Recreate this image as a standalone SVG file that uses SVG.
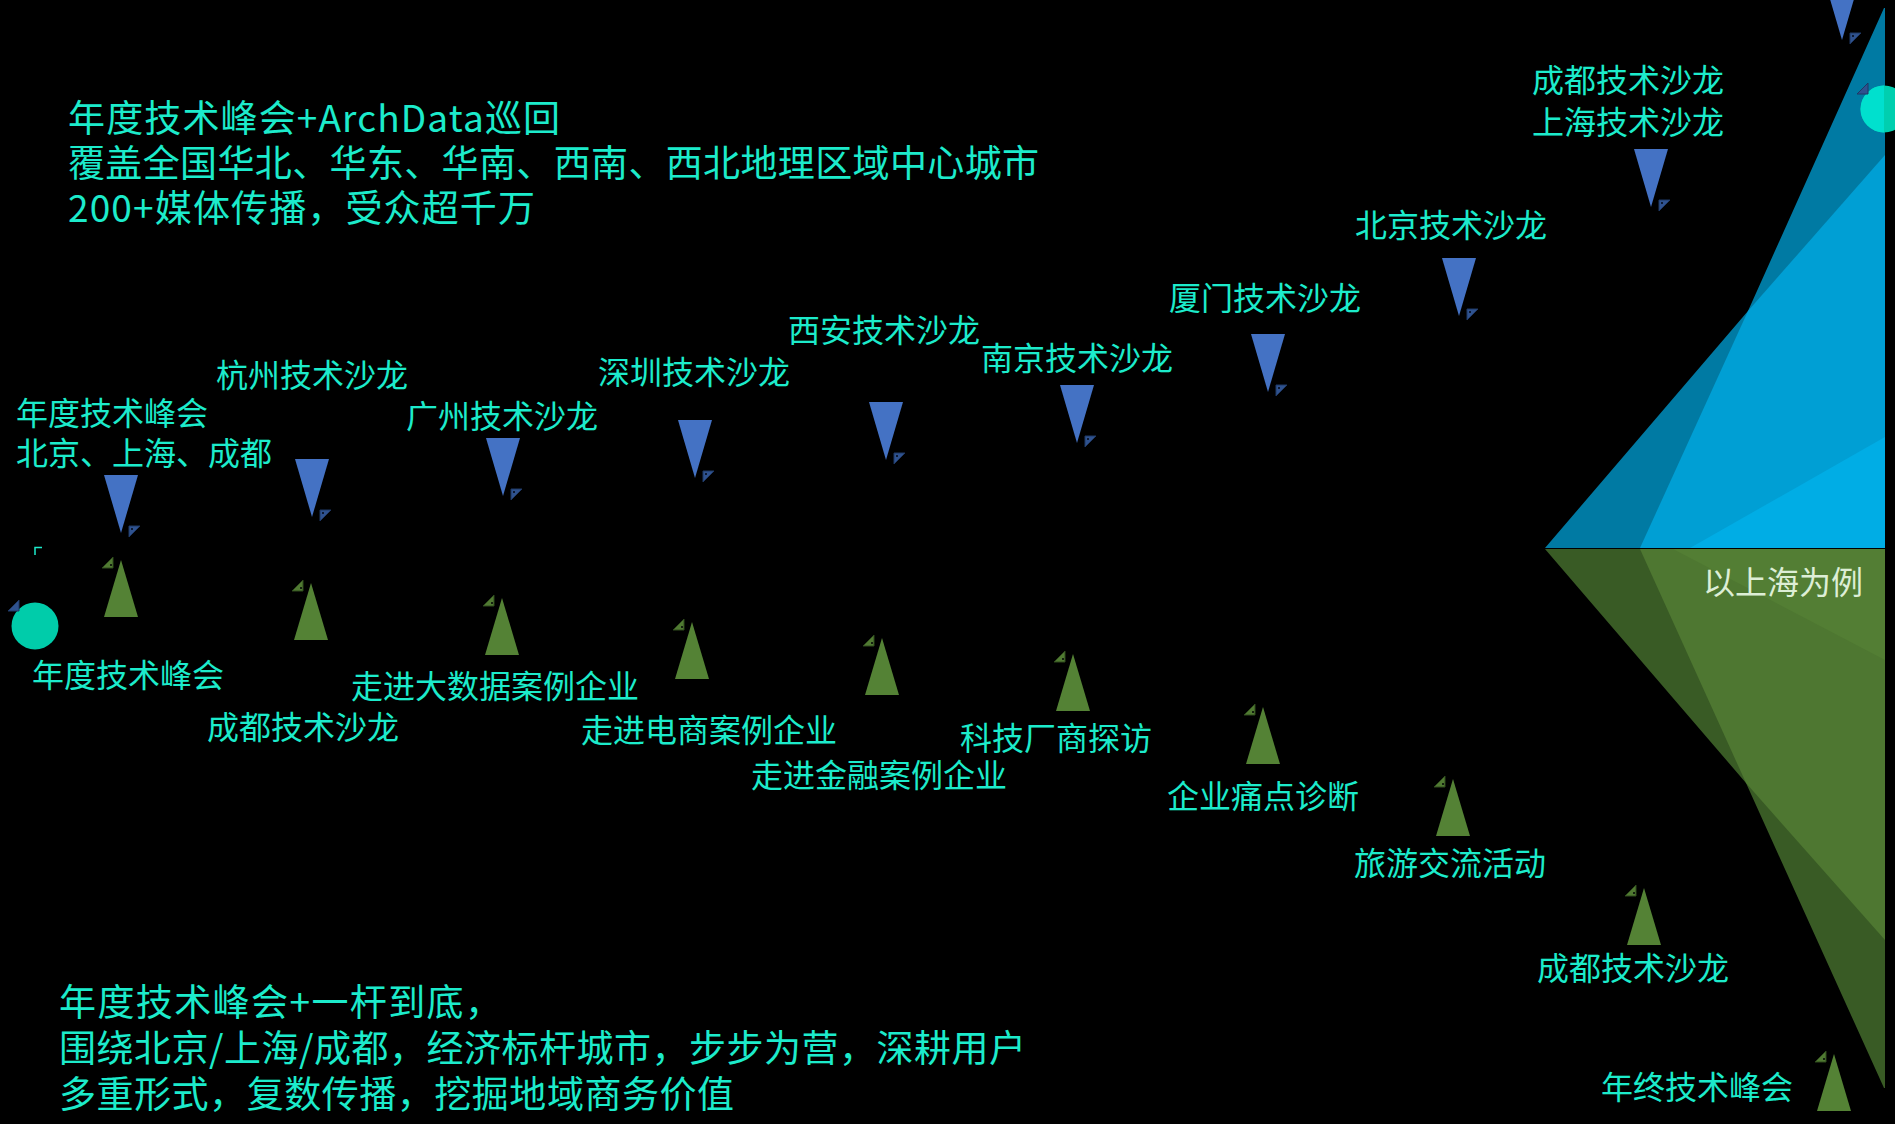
<svg xmlns="http://www.w3.org/2000/svg" xmlns:xlink="http://www.w3.org/1999/xlink" width="1895" height="1124" viewBox="0 0 1895 1124">
<style>
  .t{font-family:"Noto Sans CJK SC","Microsoft YaHei","Noto Sans",sans-serif;fill:#1CEBCB}
  .lbl{font-size:32px}
  .big{font-size:37px}
  .mid{text-anchor:middle}
</style>
<defs>
  <path id="tb" d="M-17,-58 L17,-58 L0,0 Z" fill="#4472C4"/>
  <g id="mb"><path d="M8,-7 L19,-7 L8,4 Z" fill="#2F528F" stroke="#1F3864" stroke-width="1"/><rect x="10" y="-5" width="2" height="2" fill="#0d1a33"/></g>
  <path id="tg" d="M0,0 L17,57 L-17,57 Z" fill="#548235"/>
  <g id="mg"><path d="M-8,-3 L-8,8 L-19,8 Z" fill="#507A32" stroke="#2E4A1C" stroke-width="1"/><rect x="-11" y="4" width="2" height="2" fill="#142010"/></g>
</defs>
<rect x="0" y="0" width="1895" height="1124" fill="#000"/>

<!-- diamond -->
<g id="diamond">
  <polygon points="1545,548 1748,311 1884,8 1885,8 1885,548" fill="#007AA3"/>
  <polygon points="1640,548 1748,311 1885,155 1885,548" fill="#009FD4"/>
  <polygon points="1690,548 1885,437 1885,548" fill="#00ADE5"/>
  <polygon points="1545,549 1746,783 1884,1088 1885,1088 1885,549" fill="#395B25"/>
  <polygon points="1640,549 1746,783 1885,940 1885,549" fill="#4E7731"/>
  <polygon points="1673,549 1885,660 1885,549" fill="#537E34"/>
  <text class="t lbl" x="1863" y="594" text-anchor="end" style="fill:#DDEED6">以上海为例</text>
</g>

<g id="connectors">
  <path d="M35,555 V547.5 H42" fill="none" stroke="#1CEBCB" stroke-width="1.5"/>
</g>

<!-- headline texts -->
<g id="intro-top">
  <text class="t big" x="68" y="132" textLength="492" lengthAdjust="spacing">年度技术峰会+ArchData巡回</text>
  <text class="t big" x="68" y="177" textLength="971" lengthAdjust="spacing">覆盖全国华北、华东、华南、西南、西北地理区域中心城市</text>
  <text class="t big" x="68" y="222" textLength="467" lengthAdjust="spacing">200+媒体传播，受众超千万</text>
</g>
<g id="intro-bottom">
  <text class="t big" x="59" y="1016" textLength="443" lengthAdjust="spacing">年度技术峰会+一杆到底，</text>
  <text class="t big" x="59" y="1062" textLength="967" lengthAdjust="spacing">围绕北京/上海/成都，经济标杆城市，步步为营，深耕用户</text>
  <text class="t big" x="59" y="1108" textLength="675" lengthAdjust="spacing">多重形式，复数传播，挖掘地域商务价值</text>
</g>

<!-- circles -->
<g id="start-circle">
  <circle cx="35" cy="626" r="23.5" fill="#00CCAA"/>
  <path d="M19,600 L8,611 L19,611 Z" fill="#2F528F" stroke="#1F3864" stroke-width="1"/>
</g>
<g id="end-circle">
  <circle cx="1884" cy="109" r="23.5" fill="#00CFAF"/>
  <path d="M1884,85.5 A23.5,23.5 0 0 0 1884,132.5 Z" fill="#00E0CE"/>
  <path d="M1868,83 L1857,94 L1868,94 Z" fill="#2F528F" stroke="#1F3864" stroke-width="1"/>
</g>

<!-- blue (national) nodes -->
<g id="b1"><use href="#tb" x="121" y="533"/><use href="#mb" x="121" y="533"/>
  <text class="t lbl" x="16" y="425">年度技术峰会</text><text class="t lbl" x="16" y="465">北京、上海、成都</text></g>
<g id="b2"><use href="#tb" x="312" y="517"/><use href="#mb" x="312" y="517"/>
  <text class="t lbl mid" x="312" y="387">杭州技术沙龙</text></g>
<g id="b3"><use href="#tb" x="503" y="496"/><use href="#mb" x="503" y="496"/>
  <text class="t lbl mid" x="502" y="428">广州技术沙龙</text></g>
<g id="b4"><use href="#tb" x="695" y="478"/><use href="#mb" x="695" y="478"/>
  <text class="t lbl mid" x="694" y="384">深圳技术沙龙</text></g>
<g id="b5"><use href="#tb" x="886" y="460"/><use href="#mb" x="886" y="460"/>
  <text class="t lbl mid" x="884" y="342">西安技术沙龙</text></g>
<g id="b6"><use href="#tb" x="1077" y="443"/><use href="#mb" x="1077" y="443"/>
  <text class="t lbl mid" x="1077" y="370">南京技术沙龙</text></g>
<g id="b7"><use href="#tb" x="1268" y="392"/><use href="#mb" x="1268" y="392"/>
  <text class="t lbl mid" x="1265" y="310">厦门技术沙龙</text></g>
<g id="b8"><use href="#tb" x="1459" y="316"/><use href="#mb" x="1459" y="316"/>
  <text class="t lbl mid" x="1451" y="237">北京技术沙龙</text></g>
<g id="b9"><use href="#tb" x="1651" y="207"/><use href="#mb" x="1651" y="207"/>
  <text class="t lbl mid" x="1628" y="92">成都技术沙龙</text><text class="t lbl mid" x="1628" y="134">上海技术沙龙</text></g>
<g id="b10"><use href="#tb" x="1842" y="40"/><use href="#mb" x="1842" y="40"/></g>

<!-- green (Shanghai) nodes -->
<g id="g1"><use href="#tg" x="121" y="560"/><use href="#mg" x="121" y="560"/>
  <text class="t lbl" x="32" y="687">年度技术峰会</text></g>
<g id="g2"><use href="#tg" x="311" y="583"/><use href="#mg" x="311" y="583"/>
  <text class="t lbl mid" x="303" y="739">成都技术沙龙</text></g>
<g id="g3"><use href="#tg" x="502" y="598"/><use href="#mg" x="502" y="598"/>
  <text class="t lbl mid" x="495" y="698">走进大数据案例企业</text></g>
<g id="g4"><use href="#tg" x="692" y="622"/><use href="#mg" x="692" y="622"/>
  <text class="t lbl mid" x="709" y="742">走进电商案例企业</text></g>
<g id="g5"><use href="#tg" x="882" y="638"/><use href="#mg" x="882" y="638"/>
  <text class="t lbl mid" x="879" y="787">走进金融案例企业</text></g>
<g id="g6"><use href="#tg" x="1073" y="654"/><use href="#mg" x="1073" y="654"/>
  <text class="t lbl mid" x="1056" y="750">科技厂商探访</text></g>
<g id="g7"><use href="#tg" x="1263" y="707"/><use href="#mg" x="1263" y="707"/>
  <text class="t lbl mid" x="1263" y="808">企业痛点诊断</text></g>
<g id="g8"><use href="#tg" x="1453" y="779"/><use href="#mg" x="1453" y="779"/>
  <text class="t lbl mid" x="1450" y="875">旅游交流活动</text></g>
<g id="g9"><use href="#tg" x="1644" y="888"/><use href="#mg" x="1644" y="888"/>
  <text class="t lbl mid" x="1633" y="980">成都技术沙龙</text></g>
<g id="g10"><use href="#tg" x="1834" y="1054"/><use href="#mg" x="1834" y="1054"/>
  <text class="t lbl mid" x="1697" y="1099">年终技术峰会</text></g>
</svg>
